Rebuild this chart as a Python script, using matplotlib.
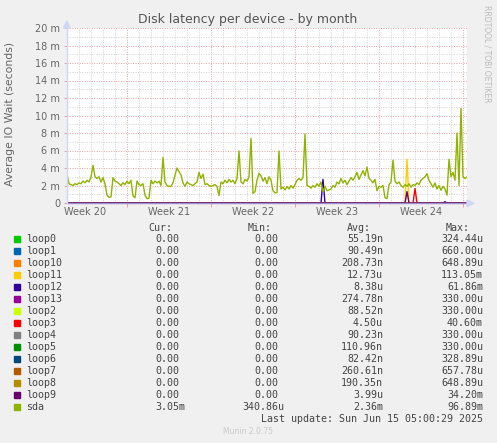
import matplotlib
matplotlib.use("Agg")
import matplotlib.pyplot as plt
from matplotlib.patches import Rectangle, Polygon
import numpy as np

W, H = 497, 443

# ---------------- data ----------------
# sda average IO wait (milliseconds), one sample every 4 hours over the month window
sda = [3.3, 2.2, 2.1, 2.0, 2.2, 2.1, 2.3, 2.2, 2.5, 2.3,
       2.6, 2.4, 3.0, 4.3, 3.0, 2.8, 3.0, 2.4, 2.9, 2.2,
       0.9, 0.65, 0.7, 2.9, 2.5, 2.4, 2.2, 2.0, 2.3, 2.1,
       2.5, 2.2, 2.6, 0.8, 0.6, 2.5, 2.1, 2.0, 2.2, 0.9,
       0.5, 0.55, 2.6, 2.2, 2.5, 2.3, 2.5, 2.0, 5.2, 2.4,
       2.0, 1.9, 1.9, 2.3, 3.2, 4.0, 3.6, 3.2, 2.3, 1.9,
       2.4, 2.2, 2.1, 2.0, 2.2, 2.4, 3.5, 2.8, 3.3, 2.1,
       2.2, 2.0, 1.9, 2.0, 2.1, 1.9, 0.85, 2.4, 2.2, 2.6,
       2.3, 2.7, 2.4, 2.6, 2.2, 2.8, 5.95, 2.4, 2.2, 2.7,
       2.5, 3.0, 7.4, 1.1, 1.3, 2.6, 3.4, 3.1, 2.5, 2.9,
       2.2, 3.0, 2.6, 1.4, 1.15, 1.2, 5.95, 1.6, 1.8, 1.5,
       1.9, 1.6, 2.0, 1.7, 2.1, 2.6, 2.8, 2.6, 2.9, 7.9,
       2.0, 1.9, 1.7, 2.0, 1.8, 2.2, 1.9, 2.4, 1.3, 1.9,
       1.4, 1.5, 1.6, 2.0, 1.8, 2.4, 2.2, 2.8, 2.3, 2.6,
       2.1, 2.5, 2.9, 2.6, 3.0, 3.5, 2.7, 3.2, 3.7, 3.1,
       4.1, 2.8, 2.6, 2.3, 2.7, 1.4, 1.9, 1.8, 2.0, 0.6,
       0.5, 2.1, 2.4, 4.9, 2.5, 2.2, 2.4, 2.0, 1.8, 2.1,
       1.9, 2.2, 1.8, 2.1, 2.0, 2.3, 2.1, 2.6, 2.8, 3.0,
       3.35, 2.6, 2.2, 1.8, 2.3, 1.6, 2.0, 1.45, 1.9, 1.6,
       0.9, 5.0, 3.0, 3.5, 2.6, 8.0, 2.0, 10.8, 3.0, 2.8,
       3.0]

# loop devices are zero except for a few short bursts (sample index -> ms)
loop11_idx, loop11_val = [170], [5.0]
loop12_idx, loop12_val = [128, 189], [2.7, 0.15]
loop9_idx, loop9_val = [170], [1.3]
loop3_idx, loop3_val = [174], [1.65]

names = ["loop0", "loop1", "loop10", "loop11", "loop12", "loop13", "loop2",
         "loop3", "loop4", "loop5", "loop6", "loop7", "loop8", "loop9", "sda"]
colors = ["#00CC00", "#0066B3", "#FF8000", "#FFCC00", "#330099", "#990099",
          "#CCFF00", "#FF0000", "#808080", "#008F00", "#00487D", "#B35A00",
          "#B38F00", "#6B006B", "#8FB300"]
cur = ["0.00", "0.00", "0.00", "0.00", "0.00", "0.00", "0.00", "0.00",
       "0.00", "0.00", "0.00", "0.00", "0.00", "0.00", "3.05m"]
mins = ["0.00"] * 14 + ["340.86u"]
avgs = ["55.19n", "90.49n", "208.73n", "12.73u", "8.38u", "274.78n", "88.52n",
        "4.50u", "90.23n", "110.96n", "82.42n", "260.61n", "190.35n", "3.99u", "2.36m"]
maxs = ["324.44u", "660.00u", "648.89u", "113.05m", "61.86m", "330.00u",
        "330.00u", "40.60m", "330.00u", "330.00u", "328.89u", "657.78u",
        "648.89u", "34.20m", "96.89m"]

week_labels = ["Week 20", "Week 21", "Week 22", "Week 23", "Week 24"]
ytick_vals = [0, 2, 4, 6, 8, 10, 12, 14, 16, 18, 20]
ytick_labels = ["0", "2 m", "4 m", "6 m", "8 m", "10 m", "12 m", "14 m",
                "16 m", "18 m", "20 m"]

# ---------------- figure ----------------
def fx(x):
    return x / W

def fy(y):
    return 1 - y / H

FONT = "#666666"
fig = plt.figure(figsize=(W / 100, H / 100), dpi=100, facecolor="#F0F0F0")
L, R, T, B = 67, 467, 28, 203
ax = fig.add_axes([fx(L), fy(B), (R - L) / W, (B - T) / H])
ax.set_facecolor("white")

n = len(sda)
t = np.arange(n) / 6.0   # days
span = 400 / 12.0
ax.set_xlim(0, span)
ax.set_ylim(0, 20)

# grid
dot = (0, (1, 1.5))
for d in range(1, 34):
    major = (d - 5) % 7 == 0
    ax.axvline(d, color="#E8A0A0" if major else "#D0D0D0", lw=0.7,
               ls=dot, zorder=1)
for v in range(1, 21):
    major = v % 2 == 0
    ax.axhline(v, color="#E8A0A0" if major else "#D0D0D0", lw=0.7,
               ls=dot, zorder=1)

def sparse(idx, val):
    arr = np.zeros(n)
    for i, v in zip(idx, val):
        arr[i] = v
    return arr

series = {}
for nm in names[:-1]:
    series[nm] = np.zeros(n)
series["loop11"] = sparse(loop11_idx, loop11_val)
series["loop12"] = sparse(loop12_idx, loop12_val)
series["loop9"] = sparse(loop9_idx, loop9_val)
series["loop3"] = sparse(loop3_idx, loop3_val)
series["sda"] = np.array(sda)

for nm, c in zip(names, colors):
    ax.plot(t, series[nm], color=c, lw=1.0, zorder=3, solid_joinstyle="round")

for s in ax.spines.values():
    s.set_visible(False)
# axes lines
ax.plot([0, span], [0, 0], color="#A08CD0", lw=1.0, zorder=4, clip_on=False)
ax.plot([0, 0], [0, 20], color="#CFD6F8", lw=1.0, zorder=4, clip_on=False)

# arrows
fig.patches.append(Polygon([[fx(467), fy(200)], [fx(474), fy(203.3)], [fx(467), fy(206.6)]],
                           closed=True, transform=fig.transFigure, color="#CFD6F8"))
fig.patches.append(Polygon([[fx(63.5), fy(28)], [fx(66.8), fy(21)], [fx(70), fy(28)]],
                           closed=True, transform=fig.transFigure, color="#CFD6F8"))

# ticks
ax.set_yticks(ytick_vals)
ax.set_yticklabels(ytick_labels)
ax.set_xticks([5, 12, 19, 26, 33])
ax.set_xticklabels([])
ax.tick_params(axis="y", length=2, width=0.7, color="#E8A0A0", pad=3,
               labelsize=7, labelcolor=FONT)
ax.tick_params(axis="x", length=3, width=0.7, color="#E8A0A0", direction="out")
for lab, pos in zip(week_labels, [1.5, 8.5, 15.5, 22.5, 29.5]):
    ax.text(pos, -0.5, lab, ha="center", va="top", fontsize=7, color=FONT)

# texts
fig.text(fx(248), fy(19), "Disk latency per device - by month", ha="center",
         va="center", fontsize=9, color="#555555")
fig.text(fx(10), fy(114), "Average IO Wait (seconds)", rotation=90,
         ha="center", va="center", fontsize=7.8, color=FONT)
fig.text(fx(487.5), fy(5), "RRDTOOL / TOBI OETIKER", rotation=270,
         ha="center", va="top", fontsize=5.5, color="#BBBBBB")

# legend table
mono = "DejaVu Sans Mono"
fs = 7.2
cw = 5.97
LEG = "#444444"
hy = 227.7
for lab, xr in zip(["Cur:", "Min:", "Avg:", "Max:"], [172, 272, 371, 470]):
    fig.text(fx(xr), fy(hy), lab, ha="right", va="center", fontsize=fs,
             family=mono, color=LEG)

def put_val(s, xr, y):
    if s[-1].isdigit():
        xr -= cw
    fig.text(fx(xr), fy(y), s, ha="right", va="center", fontsize=fs,
             family=mono, color=LEG)

for k, nm in enumerate(names):
    y = 239.3 + 12 * k
    fig.patches.append(Rectangle((fx(14), fy(y + 3)), 6 / W, 6 / H,
                                 transform=fig.transFigure, color=colors[k]))
    fig.text(fx(26.5), fy(y), nm, ha="left", va="center", fontsize=fs,
             family=mono, color=LEG)
    put_val(cur[k], 185, y)
    put_val(mins[k], 284, y)
    put_val(avgs[k], 383, y)
    put_val(maxs[k], 483, y)

fig.text(fx(483), fy(419.3), "Last update: Sun Jun 15 05:00:29 2025",
         ha="right", va="center", fontsize=fs, family=mono, color=LEG)
fig.text(fx(248), fy(432), "Munin 2.0.75", ha="center", va="center",
         fontsize=5.5, color="#C8C8C8")

fig.savefig("out.png", dpi=100, facecolor="#F0F0F0")
